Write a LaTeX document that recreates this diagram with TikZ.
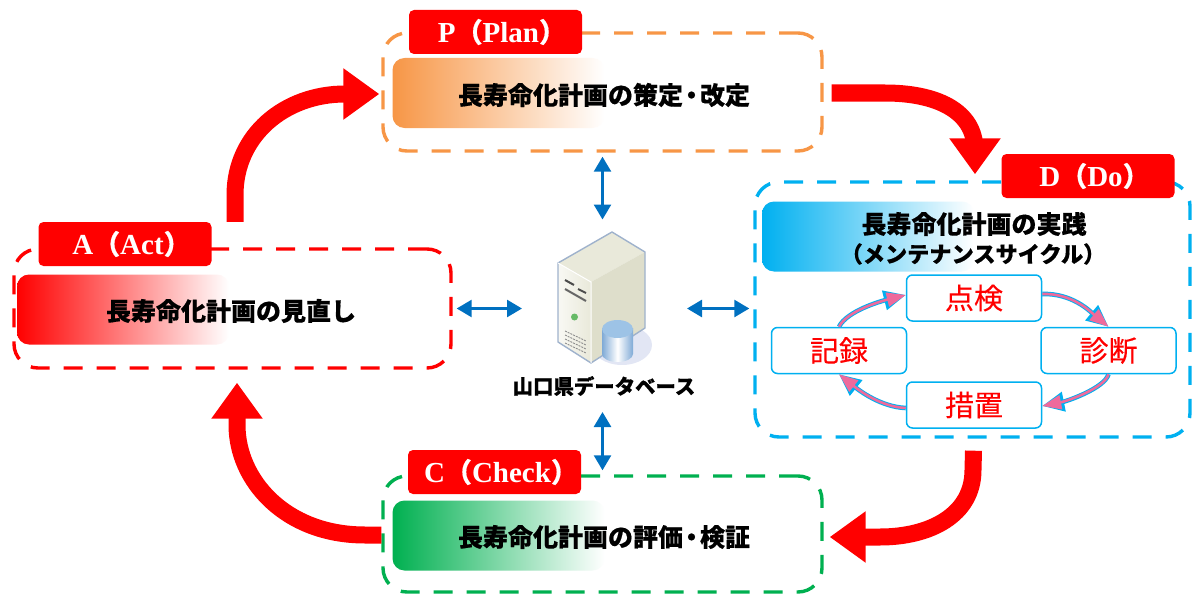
\documentclass[tikz,border=0pt]{standalone}
\usepackage{fontspec}
\setmainfont{Liberation Serif}
\newfontfamily\cjk[BoldFeatures={FakeBold=0.5}]{Noto Sans CJK JP}
\newfontfamily\cjkm[FakeBold=0.25]{Noto Sans CJK JP}
\usetikzlibrary{arrows.meta,calc,bending}
\definecolor{cRed}{HTML}{FF0000}
\definecolor{cOrange}{HTML}{F79646}
\definecolor{cBlue}{HTML}{00B0F0}
\definecolor{cGreen}{HTML}{00B050}
\definecolor{cPink}{HTML}{EE6A9C}
\definecolor{cLink}{HTML}{0070C0}
\definecolor{cCase}{HTML}{E9E9DA}
\definecolor{cCaseS}{HTML}{DEDECB}
\definecolor{cEdge}{HTML}{9FB2CC}
\definecolor{cDrum}{HTML}{7FAAD6}
\definecolor{cDrumTop}{HTML}{9DC3E6}
\definecolor{cHalo}{HTML}{E2E6F4}
\tikzset{
  x=1pt,y=-1pt,
  phase/.style={draw=#1,line width=3.4pt,dash pattern=on 19pt off 14pt,rounded corners=24pt,inner sep=0pt,fill=white},
  tabbox/.style={fill=cRed,rounded corners=5pt,minimum width=173pt,minimum height=44pt,inner sep=0pt,text=white,font=\fontsize{29}{29}\selectfont\bfseries},
  band/.style={left color=#1,right color=white,rounded corners=12pt,minimum width=212pt,minimum height=70pt,inner sep=0pt},
  lbl/.style={font=\cjk\bfseries\fontsize{25}{27}\selectfont,align=center,inner sep=0pt},
  cell/.style={draw=cBlue,line width=1.5pt,fill=white,rounded corners=6pt,minimum width=135pt,minimum height=46pt,inner sep=0pt,text=cRed,font=\cjkm\fontsize{29}{29}\selectfont},
  bigarrow/.style={draw=cRed,line width=17pt,-{Triangle[length=36pt,width=49pt,quick]}},
  linkarrow/.style={draw=cLink,line width=2.6pt,{Triangle[length=15pt,width=17pt]}-{Triangle[length=15pt,width=17pt]}},
  cycleouter/.style={draw=cBlue,line width=4.6pt,-{Triangle[length=22pt,width=19pt,quick]}},
  cycleinner/.style={draw=cPink,line width=2.6pt,-{Triangle[length=19pt,width=14pt,quick]}},
  ghost/.style={inner sep=0pt,outer sep=0pt}
}
\newcommand{\tabtext}[2]{#1{\cjk\bfseries\fontsize{27}{27}\selectfont（}#2{\cjk\bfseries\fontsize{27}{27}\selectfont ）}\kern-13pt}
\newcommand{\cyclepath}[1]{\draw[cycleouter] #1; \draw[cycleinner] #1;}
\begin{document}
\begin{tikzpicture}
\useasboundingbox (0,0) rectangle (1192,594);
% phase frames
\node[phase=cOrange,minimum width=439pt,minimum height=118pt] (Pbox) at (602.5,92) {};
\node[phase=cRed,minimum width=437pt,minimum height=119pt] (Abox) at (232.5,308.5) {};
\node[phase=cBlue,minimum width=435pt,minimum height=255pt] (Dbox) at (972.5,309.5) {};
\node[phase=cGreen,minimum width=439pt,minimum height=116pt] (Cbox) at (602.5,534) {};
% gradient bands
\node[band=cOrange] (Pband) at (498.5,93) {};
\node[band=cRed] (Aband) at (123,309.5) {};
\node[band=cBlue] (Dband) at (868,236.5) {};
\node[band=cGreen] (Cband) at (498.5,535.5) {};
% tabs
\node[tabbox] (Ptab) at (495.5,32) {\tabtext{P}{Plan}};
\node[tabbox] (Atab) at (125,244) {\tabtext{A}{Act}};
\node[tabbox] (Dtab) at (1088,176) {\tabtext{D}{Do}};
\node[tabbox] (Ctab) at (494.5,472) {\tabtext{C}{Check}};
% labels
\node[lbl] (Plbl) at (604,95) {長寿命化計画の策定\kern-4pt・\kern-4pt 改定};
\node[lbl] (Albl) at (231,311) {長寿命化計画の見直し};
\node[lbl] (Dlbl) at (974,224) {長寿命化計画の実践};
\node[lbl,font=\cjk\bfseries\fontsize{22.2}{27}\selectfont] (Dlbl2) at (973,254) {（メンテナンスサイクル）};
\node[lbl] (Clbl) at (604,537) {長寿命化計画の評価\kern-4pt・\kern-4pt 検証};
% maintenance cycle
\node[cell] (ten) at (974,298) {点検};
\node[cell] (kiroku) at (839,350.5) {記録};
\node[cell] (shin) at (1108.5,350.5) {診断};
\node[cell] (so) at (974,405) {措置};
\cyclepath{([yshift=4pt]ten.east) .. controls +(30,-1) and +(-18,-15) .. (shin.north)}
\cyclepath{(shin.south) .. controls +(-4,14) and +(25,-5) .. ([yshift=-1pt]so.east)}
\cyclepath{([yshift=-3pt]so.west) .. controls +(-25,-1) and +(20,16) .. (kiroku.south)}
\cyclepath{(kiroku.north) .. controls +(8,-16) and +(-24,6) .. ([yshift=3pt]ten.west)}
% big arrows
\coordinate (aStart) at ([xshift=110pt]Atab.north);
\coordinate (cStart) at ([yshift=-1pt]Cbox.west);
\coordinate (pStart) at ([xshift=8pt,yshift=-1pt]Pbox.east);
\coordinate (dStart) at ([yshift=-12pt]Dbox.south);
\draw[bigarrow] (aStart) -- (235,195) .. controls (235,135) and (285,94) .. (345,94) -- ([xshift=-2pt,yshift=-2pt]Pbox.west);
\draw[bigarrow] (pStart) -- (885,93) .. controls (935,93) and (975,110) .. (975,150) -- ([xshift=2.5pt,yshift=6pt]Dbox.north);
\draw[bigarrow] ([xshift=1pt]dStart) -- (973,470) .. controls (973,515) and (930,537) .. (880,537) -- ([xshift=6pt,yshift=-3pt]Cbox.east);
\draw[bigarrow] (cStart) -- (365,535) .. controls (285,535) and (237,480) .. (237,425) -- ([xshift=4.5pt,yshift=-13pt]Abox.south);
% server icon
\node[ghost,minimum width=165pt,minimum height=178pt] (db) at (604.5,308.5) {};
\node[ghost,minimum width=165pt,minimum height=52pt] (dbTitle) at (604.5,386) {};
\fill[cHalo] (622,345) ellipse (30pt and 20pt);
\fill[cCase] (558,263) -- (612,232) -- (645,252) -- (591,282) -- cycle;
\shade[left color=white!70!cCase,right color=cCase] (558,263) -- (591,282) -- (591,363) -- (558,342) -- cycle;
\fill[cCaseS] (591,282) -- (645,252) -- (645,328) -- (591,363) -- cycle;
\draw[cEdge,line width=1.4pt,line join=round] (558,263) -- (612,232) -- (645,252) -- (645,328) -- (591,363) -- (558,342) -- cycle;
\draw[white,line width=1pt] (558,263) -- (591,282) -- (591,363);
\draw[black!70,line width=2pt] (565,280) -- (574,285) (578,289) -- (586,293);
\draw[black!60,line width=2pt] (565,289) -- (586,301);
\fill[green!55!black!60] (574.5,317) circle (3.5pt);
\foreach \k in {0,1,2,3}{\draw[black!45,line width=0.9pt,dash pattern=on 2pt off 1pt] (565,331+\k*4) -- (586,341+\k*4);}
\shade[left color=cDrum,right color=cDrum,middle color=white] (602,328) -- (602,354) arc[start angle=180,end angle=360,x radius=15.5pt,y radius=8pt] -- (633,328) -- cycle;
\fill[cDrumTop] (617.5,329) ellipse (15.5pt and 9pt);
\node[lbl,font=\cjk\bfseries\fontsize{20.4}{22}\selectfont] (dbLbl) at (604,386) {山口県データベース};
% double arrows
\draw[linkarrow] ([yshift=-4pt]Pbox.south) -- (Pbox.south |- db.north);
\draw[linkarrow] (dbTitle.south -| Cbox.north) -- ([yshift=4pt]Cbox.north);
\draw[linkarrow] ([xshift=4pt]Abox.east |- db.west) -- (db.west);
\draw[linkarrow] (db.east) -- ([xshift=-4pt]Dbox.west |- db.east);
\end{tikzpicture}
\end{document}
